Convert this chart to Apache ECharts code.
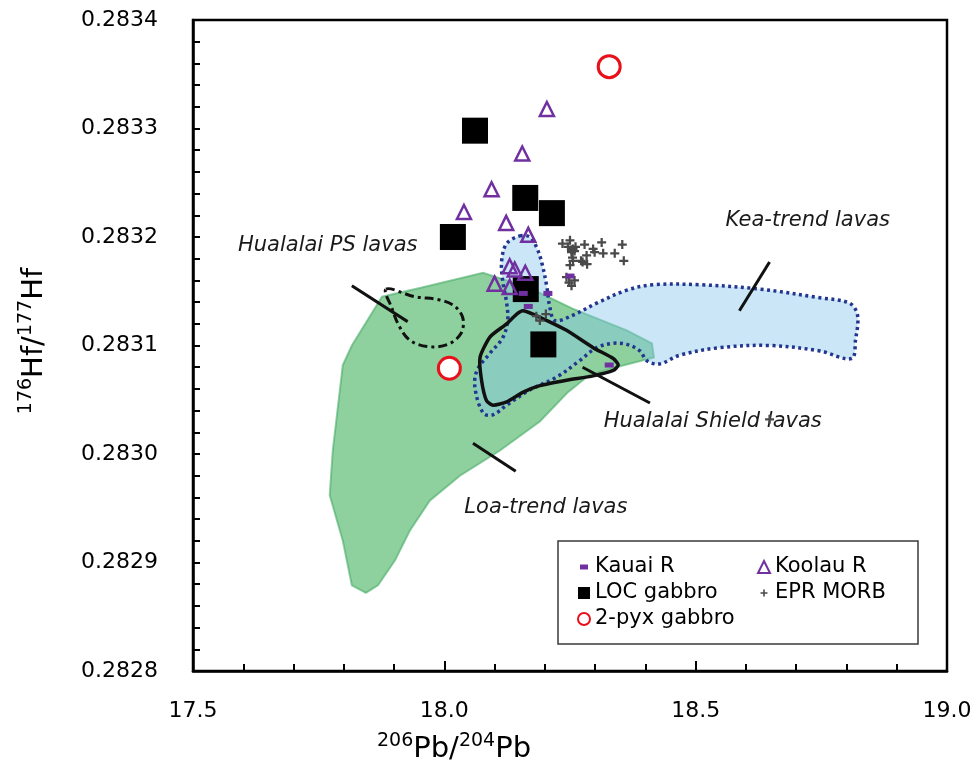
<!DOCTYPE html>
<html>
<head>
<meta charset="utf-8">
<script src="https://cdn.jsdelivr.net/npm/echarts@6/dist/echarts.min.js"></script>
<style>
  html, body { margin: 0; padding: 0; background: #fff; }
  #chart { width: 980px; height: 781px; }
</style>
</head>
<body>
<div id="chart"></div>
<script>
// ---- Sample data: 206Pb/204Pb (x) vs 176Hf/177Hf (y) ----
const locGabbro = [
  [18.061, 0.283298], [18.161, 0.283236], [18.214, 0.283222],
  [18.017, 0.283200], [18.162, 0.283152], [18.197, 0.283101]
];
const koolauR = [
  [18.204, 0.283318], [18.155, 0.283277], [18.094, 0.283244], [18.039, 0.283223],
  [18.123, 0.283213], [18.167, 0.283202], [18.130, 0.283173], [18.140, 0.283170],
  [18.161, 0.283167], [18.100, 0.283157], [18.130, 0.283154]
];
const kauaiR = [
  [18.157, 0.283148], [18.206, 0.283148], [18.167, 0.283136],
  [18.250, 0.283164], [18.328, 0.283082]
];
const twoPyxGabbro = [
  [18.328, 0.283357], [18.010, 0.283079]
];
const eprMorb = [
  [18.235, 0.283194], [18.250, 0.283197], [18.256, 0.283189], [18.253, 0.283186],
  [18.246, 0.283191], [18.261, 0.283191], [18.279, 0.283193], [18.296, 0.283189],
  [18.299, 0.283186], [18.313, 0.283195], [18.316, 0.283185], [18.339, 0.283185],
  [18.354, 0.283193], [18.357, 0.283178], [18.283, 0.283183], [18.275, 0.283177],
  [18.284, 0.283175], [18.256, 0.283178], [18.250, 0.283174], [18.243, 0.283163],
  [18.259, 0.283160], [18.253, 0.283155], [18.248, 0.283158], [18.253, 0.283188],
  [18.259, 0.283187], [18.255, 0.283181], [18.272, 0.283178], [18.190, 0.283123],
  [18.202, 0.283129], [18.183, 0.283127], [18.647, 0.283032]
];

// ---- Fields of published lava compositions (polygon outlines) ----
const loaTrendField = [
  [17.844, 0.282872], [17.816, 0.282879], [17.798, 0.282920], [17.772, 0.282962],
  [17.778, 0.283003], [17.798, 0.283082], [17.816, 0.283100], [17.876, 0.283145],
  [17.951, 0.283153], [18.077, 0.283167], [18.170, 0.283153], [18.255, 0.283134],
  [18.363, 0.283114], [18.413, 0.283102], [18.417, 0.283089], [18.359, 0.283082],
  [18.289, 0.283073], [18.246, 0.283057], [18.190, 0.283030], [18.110, 0.283003],
  [18.031, 0.282980], [17.971, 0.282957], [17.931, 0.282929], [17.902, 0.282902],
  [17.868, 0.282879]
];
const keaTrendField = [
  [18.150, 0.283201], [18.170, 0.283200], [18.184, 0.283190], [18.194, 0.283176],
  [18.204, 0.283154], [18.210, 0.283135], [18.220, 0.283123], [18.256, 0.283128],
  [18.303, 0.283139], [18.363, 0.283151], [18.415, 0.283156], [18.508, 0.283156],
  [18.627, 0.283152], [18.747, 0.283144], [18.806, 0.283139], [18.822, 0.283128],
  [18.818, 0.283105], [18.810, 0.283088], [18.747, 0.283095], [18.647, 0.283100],
  [18.548, 0.283098], [18.468, 0.283091], [18.428, 0.283083], [18.403, 0.283086],
  [18.389, 0.283095], [18.363, 0.283101], [18.335, 0.283102], [18.303, 0.283098],
  [18.269, 0.283086], [18.224, 0.283071], [18.170, 0.283059], [18.124, 0.283045],
  [18.096, 0.283036], [18.077, 0.283038], [18.061, 0.283061], [18.065, 0.283077],
  [18.091, 0.283093], [18.116, 0.283107], [18.126, 0.283123], [18.124, 0.283139],
  [18.116, 0.283160], [18.114, 0.283178], [18.124, 0.283194]
];
const hualalaiShieldField = [
  [18.144, 0.283129], [18.157, 0.283132], [18.190, 0.283126], [18.243, 0.283114],
  [18.296, 0.283098], [18.336, 0.283088], [18.346, 0.283082], [18.336, 0.283077],
  [18.296, 0.283072], [18.243, 0.283068], [18.190, 0.283063], [18.157, 0.283057],
  [18.124, 0.283048], [18.097, 0.283045], [18.084, 0.283049], [18.074, 0.283068],
  [18.071, 0.283089], [18.091, 0.283108], [18.124, 0.283120]
];
const hualalaiPSField = [
  [17.884, 0.283152], [17.941, 0.283145], [17.991, 0.283142], [18.021, 0.283136],
  [18.037, 0.283125], [18.033, 0.283111], [18.007, 0.283101], [17.967, 0.283099],
  [17.931, 0.283105], [17.910, 0.283118], [17.896, 0.283134]
];

// ---- Field labels and their leader lines ----
const fieldLabels = ['Hualalai PS lavas', 'Kea-trend lavas', 'Hualalai Shield lavas', 'Loa-trend lavas'];
const fieldLabelAt = [[17.768, 0.283192], [18.723, 0.283215], [18.534, 0.283030], [18.202, 0.282951]];
const leaderLines = [
  [[17.816, 0.283155], [17.927, 0.283122]],
  [[18.647, 0.283177], [18.587, 0.283132]],
  [[18.275, 0.283080], [18.409, 0.283047]],
  [[18.057, 0.283010], [18.142, 0.282984]]
];

// ---- Axis ranges ----
const xRange = { min: 17.5, max: 19.0, step: 0.5 };
const yRange = { min: 0.2828, max: 0.2834, step: 0.0001 };

const FONT = '"DejaVu Sans", sans-serif';
const PURPLE = '#7030a0';
const PLUS = 'path://M3,0h2v3h3v2h-3v3h-2v-3h-3v-2h3z';

function areaSeries(name, pts, style, smooth, z) {
  return {
    type: 'custom', name: name, coordinateSystem: 'cartesian2d', silent: true, z: z,
    data: [pts[0]],
    renderItem: function (params, api) {
      return {
        type: 'polygon',
        shape: { points: pts.map(function (p) { return api.coord(p); }), smooth: smooth },
        style: style
      };
    }
  };
}

const chart = echarts.init(document.getElementById('chart'), null, { renderer: 'canvas' });

const option = {
  animation: false,
  backgroundColor: '#fff',
  grid: { left: 193, right: 33, top: 20, bottom: 110, show: true, borderColor: '#000', borderWidth: 2.5 },
  xAxis: {
    type: 'value', min: xRange.min, max: xRange.max, interval: xRange.step,
    axisLine: { show: true, onZero: false, lineStyle: { color: '#000', width: 2.5 } },
    axisTick: { show: true, inside: true, length: 10, lineStyle: { color: '#000', width: 2 } },
    minorTick: { show: true, splitNumber: 5, length: 7, lineStyle: { color: '#000', width: 2 } },
    splitLine: { show: false },
    axisLabel: { margin: 29, fontSize: 22, fontFamily: FONT, color: '#000',
      formatter: function (v) { return v.toFixed(1); } }
  },
  yAxis: {
    type: 'value', min: yRange.min, max: yRange.max, interval: yRange.step,
    axisLine: { show: true, onZero: false, lineStyle: { color: '#000', width: 2.5 } },
    axisTick: { show: true, inside: true, length: 7, lineStyle: { color: '#000', width: 2 } },
    minorTick: { show: true, splitNumber: 5, length: 7, lineStyle: { color: '#000', width: 2 } },
    splitLine: { show: false },
    axisLabel: { margin: 35, fontSize: 22, fontFamily: FONT, color: '#000',
      formatter: function (v) { return v.toFixed(4); } }
  },
  legend: [
    {
      orient: 'vertical', left: 572, top: 549, itemWidth: 12, itemHeight: 12, itemGap: 0,
      textStyle: { fontSize: 21, fontFamily: FONT, color: '#000', lineHeight: 26 },
      data: [
        { name: 'Kauai R', icon: 'path://M0,0M12,12M2,3.5h8v5h-8z' },
        { name: 'LOC gabbro', icon: 'rect' },
        { name: '2-pyx gabbro', icon: 'circle' }
      ]
    },
    {
      orient: 'vertical', left: 752, top: 549, itemWidth: 12, itemHeight: 12, itemGap: 0,
      textStyle: { fontSize: 21, fontFamily: FONT, color: '#000', lineHeight: 26 },
      data: [
        { name: 'Koolau R', icon: 'triangle' },
        { name: 'EPR MORB', icon: 'path://M0,0M12,12M5.2,2.5h1.6v2.7h2.7v1.6h-2.7v2.7h-1.6v-2.7h-2.7v-1.6h2.7z' }
      ]
    }
  ],
  graphic: [
    { type: 'rect', z: 3, shape: { x: 558, y: 541, width: 360, height: 103 },
      style: { fill: '#fff', stroke: '#3a3a3a', lineWidth: 1.5 } },
    { type: 'text', x: 454, y: 749, z: 10,
      style: { text: '{s|206}{m|Pb/}{s|204}{m|Pb}', align: 'center', verticalAlign: 'middle',
        rich: { m: { fontSize: 29, lineHeight: 34, fontFamily: FONT, fill: '#000' },
                s: { fontSize: 19, lineHeight: 19, fontFamily: FONT, fill: '#000', verticalAlign: 'top' } } } },
    { type: 'text', x: 34, y: 341, rotation: Math.PI / 2, z: 10,
      style: { text: '{s|176}{m|Hf/}{s|177}{m|Hf}', align: 'center', verticalAlign: 'middle',
        rich: { m: { fontSize: 29, lineHeight: 34, fontFamily: FONT, fill: '#000' },
                s: { fontSize: 19, lineHeight: 19, fontFamily: FONT, fill: '#000', verticalAlign: 'top' } } } }
  ],
  series: [
    areaSeries('Loa-trend', loaTrendField,
      { fill: 'rgba(51,171,79,0.55)', stroke: 'rgba(60,165,95,0.55)', lineWidth: 2 }, 0, 1),
    areaSeries('Kea-trend', keaTrendField,
      { fill: 'rgba(130,198,235,0.42)', stroke: '#22358f', lineWidth: 3.5, lineDash: [3, 3.5] }, 0.35, 2),
    areaSeries('Hualalai Shield', hualalaiShieldField,
      { fill: 'none', stroke: '#111', lineWidth: 3.5 }, 0.2, 3),
    areaSeries('Hualalai PS', hualalaiPSField,
      { fill: 'none', stroke: '#111', lineWidth: 3, lineDash: [9, 4, 3, 4] }, 0.35, 3),
    {
      type: 'custom', name: 'leaders', coordinateSystem: 'cartesian2d', silent: true, z: 3,
      data: leaderLines.map(function (l) { return l[0]; }),
      renderItem: function (params, api) {
        const seg = leaderLines[params.dataIndex];
        return { type: 'polyline', shape: { points: seg.map(function (p) { return api.coord(p); }) },
          style: { stroke: '#111', lineWidth: 3, fill: 'none' } };
      }
    },
    {
      type: 'custom', name: 'field labels', coordinateSystem: 'cartesian2d', silent: true, z: 4,
      data: fieldLabelAt,
      renderItem: function (params, api) {
        const c = api.coord(fieldLabelAt[params.dataIndex]);
        return { type: 'text', x: c[0], y: c[1],
          style: { text: fieldLabels[params.dataIndex], fill: '#1a1a1a',
            font: 'italic 21px "DejaVu Sans", sans-serif', align: 'center', verticalAlign: 'middle' } };
      }
    },
    {
      type: 'scatter', name: 'LOC gabbro', data: locGabbro, z: 5,
      symbol: 'rect', symbolSize: 26, itemStyle: { color: '#000', opacity: 1 }
    },
    {
      type: 'scatter', name: 'Koolau R', data: koolauR, z: 6,
      symbol: 'triangle', symbolSize: 14,
      itemStyle: { color: 'rgba(255,255,255,0)', borderColor: PURPLE, borderWidth: 2.5, opacity: 1 }
    },
    {
      type: 'scatter', name: 'EPR MORB', data: eprMorb, z: 6,
      symbol: PLUS, symbolSize: 9, itemStyle: { color: '#4a4a4a', opacity: 1 }
    },
    {
      type: 'scatter', name: 'Kauai R', data: kauaiR, z: 7,
      symbol: 'rect', symbolSize: [9, 5], itemStyle: { color: PURPLE, opacity: 1 }
    },
    {
      type: 'scatter', name: '2-pyx gabbro', data: twoPyxGabbro, z: 7,
      symbol: 'circle', symbolSize: 22,
      itemStyle: { color: '#fff', borderColor: '#e8101a', borderWidth: 3, opacity: 1 }
    }
  ]
};

chart.setOption(option);
</script>
</body>
</html>
